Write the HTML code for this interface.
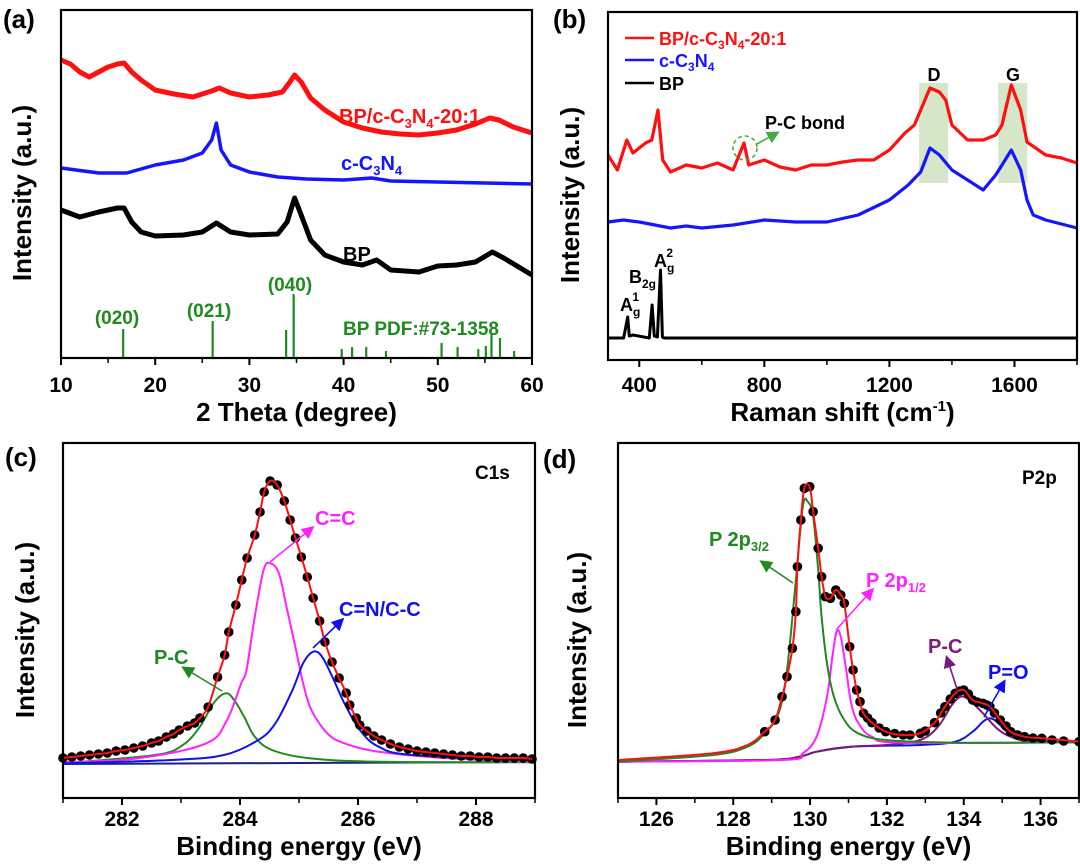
<!DOCTYPE html>
<html><head><meta charset="utf-8"><style>
html,body{margin:0;padding:0;background:#fff}
svg{display:block;font-family:"Liberation Sans",Arial,sans-serif;font-weight:bold}
</style></head><body>
<svg id="fig" width="1080" height="866" viewBox="0 0 1080 866">
<defs>
<marker id="mk-green" markerWidth="8" markerHeight="8" refX="6" refY="4" orient="auto"><path d="M0,0 L8,4 L0,8 z" fill="#1f8a1f"/></marker>
<marker id="mk-mag" markerWidth="8" markerHeight="8" refX="6" refY="4" orient="auto"><path d="M0,0 L8,4 L0,8 z" fill="#ff22ff"/></marker>
<marker id="mk-blue" markerWidth="8" markerHeight="8" refX="6" refY="4" orient="auto"><path d="M0,0 L8,4 L0,8 z" fill="#1010ee"/></marker>
<marker id="mk-purple" markerWidth="8" markerHeight="8" refX="6" refY="4" orient="auto"><path d="M0,0 L8,4 L0,8 z" fill="#7a1a7a"/></marker>
<marker id="mk-lgreen" markerWidth="8" markerHeight="8" refX="6" refY="4" orient="auto"><path d="M0,0 L8,4 L0,8 z" fill="#44aa44"/></marker>
</defs>
<g id="root"></g>
</svg>
<script>
// ---------- Panel (a) XRD ----------
const aTicks=[10,20,30,40,50,60];
const aRedX=[10,11,12,13,14,15,16,16.7,17.5,18.5,20,22,24,26,26.8,28,30,32,33.5,34.3,34.8,35.5,36.5,38,40,42,44,46,48,50,52,54,55.5,56.5,58,60];
const aRedY=[298,294,286,281,286,291,294,295,286,278,268,264,261,267,270,265,261,263,266,276,283,276,260,248,236,230,226,224,223,225,228,234,240,238,231,225];
const aBlueX=[10,14,17,20,23,25,26,26.5,27,28,30,33,36,40,43,45,50,55,60];
const aBlueY=[190,185,185,193,198,205,218,235,208,193,186,181,179,178,180,177,176,175,174];
const aBlackX=[10,12,14,16,16.7,17.5,18.5,20,23,25,26.5,28,30,33,34,34.8,35.5,36.5,38,40,42,43.5,45,48,50,52,54,55.8,57,60];
const aBlackY=[148,141,146,150,150,136,126,122,123,126,135,126,123,124,136,160,143,118,103,96,93,98,88,86,92,93,96,106,100,83];
const aRefPos=[16.6,26.1,33.9,34.7,39.8,40.9,42.4,44.5,50.4,52.1,54.3,55.1,55.7,56.6,58.1];
const aRefH=[29,37,28,64,9,11,11,7,15,11,9,12,24,20,7];
// ---------- Panel (b) Raman ----------
const bTicks=[400,800,1200,1600];
const bRedX=[300,330,360,380,420,440,460,475,500,550,600,650,700,735,750,800,850,900,950,1000,1050,1100,1150,1200,1250,1280,1300,1330,1360,1380,1400,1450,1500,1540,1560,1590,1620,1640,1700,1750,1800];
const bRedY=[205,190,220,207,217,220,250,200,188,195,192,197,190,217,195,200,193,190,195,195,198,200,200,210,227,235,250,272,268,260,235,220,220,225,235,275,250,218,205,202,197];
const bBlueX=[300,350,400,450,500,550,600,700,800,900,1000,1100,1200,1260,1300,1330,1360,1400,1450,1500,1540,1560,1590,1620,1640,1660,1700,1800];
const bBlueY=[138,140,138,135,132,134,132,135,140,138,138,145,160,175,188,212,205,190,180,170,185,195,210,190,160,145,140,132];
const bBlackX=[300,350,355,363,368,380,432,441,448,458,468,474,480,1800];
const bBlackY=[22,22,30,43,24,25,22,55,24,23,90,23,22,22];
// ---------- Panel (c) C1s ----------
const cTicks=[282,284,286,288];
const cDotE=[281.0,281.15,281.3,281.45,281.6,281.75,281.9,282.05,282.2,282.35,282.5,282.62,282.75,282.87,282.97,283.11,283.23,283.32,283.46,283.62,283.74,283.81,283.93,284.03,284.12,284.25,284.34,284.41,284.51,284.63,284.75,284.85,284.94,285.04,285.14,285.24,285.35,285.44,285.56,285.68,285.8,285.86,285.97,286.03,286.15,286.27,286.4,286.55,286.7,286.85,287.0,287.15,287.3,287.45,287.6,287.75,287.9,288.05,288.2,288.35,288.5,288.65,288.8,288.95];
const cDotI=[40,41,42,43,44,45,47,48,50,52,55,57,61,64,68,72,75,80,91,121,143,166,193,218,240,263,286,306,317,313,297,278,260,241,221,200,177,156,136,120,105,93,80,73,67,62,58,54,51,49,47,46,45,44,43,42,42,41,41,40,40,40,40,39];
const cMagE=[281,282.27,283.43,283.78,284.02,284.11,284.25,284.40,284.51,284.66,284.80,284.95,285.07,285.21,285.48,285.77,286.35,287.52,289];
const cMagI=[35.7,39.7,54.7,78,114.7,128,181.3,228,234.7,224.7,188,148,114.7,88,64.7,54.7,46.3,39.7,36];
const cGrnE=[281,282.56,283.03,283.32,283.55,283.76,283.90,284.07,284.25,284.54,285.18,286.35,289];
const cGrnI=[34.7,43,53,71.3,94.7,104.7,98,81.3,61.3,48,39.7,36.3,35.7];
const cBluE=[281,282.85,283.73,284.31,284.6,284.89,285.07,285.24,285.39,285.59,285.77,286.03,286.35,286.93,289];
const cBluI=[34.7,38,43,58,74.7,108,134.7,146.3,141.3,118,94.7,68,51.3,43,38];
const cBaseE=[281,289];
const cBaseI=[34,36];
// ---------- Panel (d) P2p ----------
const dTicks=[126,128,130,132,134,136];
const dEnvE=[125.01,127.47,128.37,128.82,129.09,129.27,129.40,129.54,129.63,129.67,129.76,129.85,129.99,130.08,130.21,130.30,130.40,130.53,130.67,130.80,130.89,131.03,131.12,131.21,131.30,131.39,131.61,131.97,132.42,132.87,133.24,133.51,133.78,134.00,134.23,134.50,134.68,134.95,135.22,135.58,136.03,137.07];
const dEnvI=[38,44.7,53,66.3,78,101.3,121.3,149.7,186.3,231.3,278,309.7,311.3,286.3,249.7,221.3,201.3,199.7,208,203,194.7,151.3,128,108,96.3,84.7,75.3,66.3,63,64.7,75.3,91.3,104.7,108,98,94.7,91.3,78,66.3,61.3,59.7,56.3];
const dDotE=[128.82,129.09,129.27,129.40,129.54,129.63,129.67,129.76,129.85,129.99,130.08,130.21,130.30,130.40,130.53,130.67,130.80,130.89,131.03,131.12,131.21,131.30,131.39,131.5,131.61,131.8,131.97,132.2,132.42,132.6,132.87,133.0,133.24,133.4,133.51,133.65,133.78,133.9,134.00,134.12,134.23,134.35,134.50,134.6,134.68,134.8,134.95,135.1,135.22,135.4,135.58,135.8,136.03,136.3,136.6,137.0];
const dDotI=[66.3,78,101.3,121.3,149.7,186.3,231.3,278,309.7,311.3,286.3,249.7,221.3,201.3,199.7,208,203,194.7,151.3,128,108,96.3,84.7,80,75.3,70,66.3,64.5,63,63,64.7,67,75.3,85,91.3,99,104.7,107,108,104,98,96,94.7,93,91.3,85,78,72,66.3,63,61.3,60,59.7,58,57,56.3];
const dGrnE=[125.01,127.47,128.37,128.82,129.18,129.40,129.63,129.81,129.94,130.08,130.21,130.30,130.44,130.62,130.89,131.25,131.97,133.78,137.07];
const dGrnI=[36.3,43,51.3,64.7,84.7,128,218,291.3,296.3,281.3,228,181.3,134.7,101.3,78,64.7,58,55.3,55.7];
const dMagE=[125.01,129.27,129.81,130.17,130.44,130.58,130.69,130.80,130.94,131.07,131.25,131.61,132.42,137.07];
const dMagI=[36.3,38,44.7,61.3,101.3,141.3,166.3,161.3,128,94.7,75.3,61.3,55.3,55.7];
const dPurE=[125.01,128.82,129.72,130.17,131.07,131.97,132.87,133.33,133.69,133.92,134.14,134.50,134.86,135.22,135.76,137.07];
const dPurI=[36.3,38,41.3,46.3,51.3,53,58,71.3,93,101.3,98,84.7,69.7,61.3,56.3,55.7];
const dBluE=[125.01,128.82,129.72,130.17,131.07,132.87,133.78,134.23,134.50,134.68,134.86,135.13,135.58,137.07];
const dBluI=[36.3,38,41.3,46.3,51.3,53,56.3,66.3,76.3,79.7,76.3,66.3,58,55.7];

const NS="http://www.w3.org/2000/svg";
const root=document.getElementById('root');
function mk(tag,attrs,parent,text){const e=document.createElementNS(NS,tag);for(const k in attrs)e.setAttribute(k,attrs[k]);if(text!==undefined)e.textContent=text;(parent||root).appendChild(e);return e;}
function lin(d0,d1,r0,r1){return v=>r0+(v-d0)*(r1-r0)/(d1-d0);}
function polyPath(xs,ys,sx,sy){return xs.map((x,i)=>(i?'L':'M')+sx(x).toFixed(1)+','+sy(ys[i]).toFixed(1)).join(' ');}
function smoothPath(xs,ys,sx,sy){
  const p=xs.map((x,i)=>[sx(x),sy(ys[i])]);
  let d='M'+p[0][0].toFixed(1)+','+p[0][1].toFixed(1);
  for(let i=0;i<p.length-1;i++){
    const p0=p[Math.max(0,i-1)],p1=p[i],p2=p[i+1],p3=p[Math.min(p.length-1,i+2)];
    const c1=[p1[0]+(p2[0]-p0[0])/6,p1[1]+(p2[1]-p0[1])/6];
    const c2=[p2[0]-(p3[0]-p1[0])/6,p2[1]-(p3[1]-p1[1])/6];
    d+=' C'+c1[0].toFixed(1)+','+c1[1].toFixed(1)+' '+c2[0].toFixed(1)+','+c2[1].toFixed(1)+' '+p2[0].toFixed(1)+','+p2[1].toFixed(1);
  }
  return d;
}
function frame(g,x0,y0,x1,y1,sx,ticks,minorStep,dmin,dmax,labelY){
  const f=mk('rect',{x:x0,y:y0,width:x1-x0,height:y1-y0,fill:'none',stroke:'#000','stroke-width':2.2},g);
  
  
  for(let v=dmin;v<=dmax+1e-9;v+=minorStep){
    const x=sx(v);
    const t=mk('line',{x1:x,x2:x,y1:y1,y2:y1+5,stroke:'#000','stroke-width':1.5},g);
    
    
  }
  ticks.forEach(v=>{
    const x=sx(v);
    mk('line',{x1:x,x2:x,y1:y1,y2:y1+7,stroke:'#000','stroke-width':2},g);
    const t=mk('text',{x:x,y:labelY,'text-anchor':'middle','font-size':21},g,String(v));
    
    
  });
}
function txt(g,x,y,s,size,fill,name,anchor){const t=mk('text',{x:x,y:y,'font-size':size,fill:fill||'#000','text-anchor':anchor||'start'},g,s);return t;}
function ytitle(g,x,y,name){const t=mk('text',{x:0,y:0,transform:`translate(${x},${y}) rotate(-90)`,'text-anchor':'middle','font-size':26},g,'Intensity (a.u.)');}
function arrow(g,x1,y1,x2,y2,col,m,name){const a=mk('line',{x1,y1,x2,y2,stroke:col,'stroke-width':1.6,'marker-end':`url(#${m})`},g);}
function curve(g,d,col,w,name){const p=mk('path',{d:d,fill:'none',stroke:col,'stroke-width':w,'stroke-linejoin':'round'},g);return p;}

// ===== Panel a =====
{
  const g=mk('g',{});
  
  
  const x0=61,x1=532,y0=10,y1=358;
  const sx=lin(10,60,x0,x1), sy=lin(0,348,y1,y0);
  aRefPos.forEach((p,i)=>{const l=mk('line',{x1:sx(p),x2:sx(p),y1:sy(0),y2:sy(aRefH[i]),stroke:'#1f8a1f','stroke-width':2.2},g);});
  curve(g,polyPath(aRedX,aRedY,sx,sy),'#ff1010',5,'trace-bp-c3n4');
  curve(g,polyPath(aBlueX,aBlueY,sx,sy),'#1515ff',3.5,'trace-c3n4');
  curve(g,polyPath(aBlackX,aBlackY,sx,sy),'#000',5,'trace-bp');
  frame(g,x0,y0,x1,y1,sx,aTicks,5,10,60,392);
  txt(g,(x0+x1)/2,421,'2 Theta (degree)',26,'#000','x-axis-title','middle');
  ytitle(g,31,193,'y-axis-title');
  txt(g,3,28,'(a)',26,'#000','panel-label-a');
  const r=txt(g,339,123,'',20,'#ff1010','label-bp-c3n4');
  r.innerHTML='BP/c-C<tspan font-size="13" dy="5">3</tspan><tspan dy="-5">N</tspan><tspan font-size="13" dy="5">4</tspan><tspan dy="-5">-20:1</tspan>';
  const b=txt(g,341,170,'',20,'#1515ff','label-c3n4');
  b.innerHTML='c-C<tspan font-size="13" dy="5">3</tspan><tspan dy="-5">N</tspan><tspan font-size="13" dy="5">4</tspan>';
  txt(g,343,261,'BP',20,'#000','label-bp');
  txt(g,290,291,'(040)',19,'#1f8a1f','label-040','middle');
  txt(g,209,317,'(021)',19,'#1f8a1f','label-021','middle');
  txt(g,117,324,'(020)',19,'#1f8a1f','label-020','middle');
  txt(g,343,335,'BP PDF:#73-1358',19,'#1f8a1f','label-pdf');
}
// ===== Panel b =====
{
  const g=mk('g',{});
  
  
  const x0=608,x1=1077,y0=12,y1=360;
  const sx=lin(300,1800,x0,x1), sy=lin(0,348,y1,y0);
  [[1295,1388],[1548,1641]].forEach((r,i)=>{const s=mk('rect',{x:sx(r[0]),y:83,width:sx(r[1])-sx(r[0]),height:100,fill:'#d6e6c9'},g);});
  curve(g,polyPath(bRedX,bRedY,sx,sy),'#ff1010',3.2,'trace-bp-c3n4');
  curve(g,polyPath(bBlueX,bBlueY,sx,sy),'#1515ff',3.2,'trace-c3n4');
  curve(g,polyPath(bBlackX,bBlackY,sx,sy),'#000',3,'trace-bp');
  frame(g,x0,y0,x1,y1,sx,bTicks,200,400,1800,392);
  const xt=txt(g,(x0+x1)/2,421,'',26,'#000','x-axis-title','middle');
  xt.innerHTML='Raman shift (cm<tspan font-size="15" dy="-10">-1</tspan><tspan dy="10">)</tspan>';
  ytitle(g,579,195,'y-axis-title');
  txt(g,553,28,'(b)',26,'#000','panel-label-b');
  const leg=[['#ff1010',38,'BP/c-C<tspan font-size="12" dy="4">3</tspan><tspan dy="-4">N</tspan><tspan font-size="12" dy="4">4</tspan><tspan dy="-4">-20:1</tspan>','legend-entry-bp-c3n4'],['#1515ff',60,'c-C<tspan font-size="12" dy="4">3</tspan><tspan dy="-4">N</tspan><tspan font-size="12" dy="4">4</tspan>','legend-entry-c3n4'],['#000',83,'BP','legend-entry-bp']];
  leg.forEach(l=>{mk('line',{x1:625,x2:654,y1:l[1],y2:l[1],stroke:l[0],'stroke-width':2.5},g);const t=txt(g,659,l[1]+7,'',18,l[0],l[3]);t.innerHTML=l[2];});
  txt(g,934,81,'D',18,'#000','label-d-band','middle');
  txt(g,1013,81,'G',18,'#000','label-g-band','middle');
  txt(g,765,129,'P-C bond',18,'#000','label-pc-bond');
  const c=mk('circle',{cx:745,cy:148,r:12,fill:'none',stroke:'#55aa33','stroke-width':1.6,'stroke-dasharray':'4,3'},g);
  
  arrow(g,757,144,777,133,'#44aa44','mk-lgreen','pc-bond-arrow');
  const a1=txt(g,620,311,'',18,'#000','label-ag1');a1.innerHTML='A<tspan font-size="12" dy="5">g</tspan><tspan font-size="12" dx="-8" dy="-15">1</tspan>';
  const b2=txt(g,629,283,'',18,'#000','label-b2g');b2.innerHTML='B<tspan font-size="12" dy="5">2g</tspan>';
  const a2=txt(g,654,267,'',18,'#000','label-ag2');a2.innerHTML='A<tspan font-size="12" dy="5">g</tspan><tspan font-size="12" dx="-8" dy="-15">2</tspan>';
}
// ===== Panel c =====
{
  const g=mk('g',{});
  
  
  const x0=63,x1=535,y0=443,y1=798;
  const sx=lin(281,289,x0,x1), sy=lin(0,355,y1,y0);
  curve(g,smoothPath(cBaseE,cBaseI,sx,sy),'#1a237e',2,'background-line');
  curve(g,smoothPath(cGrnE,cGrnI,sx,sy),'#1f8a1f',2,'fit-p-c');
  curve(g,smoothPath(cMagE,cMagI,sx,sy),'#ff22ff',2,'fit-c-c');
  curve(g,smoothPath(cBluE,cBluI,sx,sy),'#1010ee',2,'fit-c-n');
  cDotE.forEach((e,i)=>{const d=mk('circle',{cx:sx(e),cy:sy(cDotI[i]),r:4.8,fill:'#000'},g);});
  curve(g,smoothPath(cDotE,cDotI,sx,sy),'#ff1010',2,'fit-envelope');
  frame(g,x0,y0,x1,y1,sx,cTicks,1,281,289,826);
  txt(g,(x0+x1)/2,855,'Binding energy (eV)',26,'#000','x-axis-title','middle');
  ytitle(g,34,630,'y-axis-title');
  txt(g,5,466,'(c)',26,'#000','panel-label-c');
  txt(g,475,479,'C1s',19,'#000','label-c1s');
  txt(g,315,525,'C=C',20,'#ff22ff','label-c-c');
  arrow(g,270,562,312,528,'#ff22ff','mk-mag','arrow-c-c');
  txt(g,339,616,'C=N/C-C',20,'#1010ee','label-c-n');
  arrow(g,313,648,342,620,'#1010ee','mk-blue','arrow-c-n');
  txt(g,154,664,'P-C',20,'#1f8a1f','label-p-c');
  arrow(g,222,691,184,668,'#1f8a1f','mk-green','arrow-p-c');
}
// ===== Panel d =====
{
  const g=mk('g',{});
  
  
  const x0=618,x1=1079,y0=443,y1=798;
  const sx=lin(125,137,x0,x1), sy=lin(0,355,y1,y0);
  curve(g,smoothPath(dBluE,dBluI,sx,sy),'#1010ee',2,'fit-p-o');
  curve(g,smoothPath(dPurE,dPurI,sx,sy),'#7a1a7a',2,'fit-p-c');
  curve(g,smoothPath(dMagE,dMagI,sx,sy),'#ff22ff',2,'fit-p2p12');
  curve(g,smoothPath(dGrnE,dGrnI,sx,sy),'#1f8a1f',2,'fit-p2p32');
  dDotE.forEach((e,i)=>{const d=mk('circle',{cx:sx(e),cy:sy(dDotI[i]),r:4.8,fill:'#000'},g);});
  curve(g,smoothPath(dEnvE,dEnvI,sx,sy),'#ff1010',2,'fit-envelope');
  frame(g,x0,y0,x1,y1,sx,dTicks,1,125,137,826);
  txt(g,(x0+x1)/2,855,'Binding energy (eV)',26,'#000','x-axis-title','middle');
  ytitle(g,586,640,'y-axis-title');
  txt(g,543,468,'(d)',26,'#000','panel-label-d');
  txt(g,1022,484,'P2p',19,'#000','label-p2p');
  const l1=txt(g,709,546,'',20,'#1f8a1f','label-p2p32');l1.innerHTML='P 2p<tspan font-size="13" dy="5">3/2</tspan>';
  arrow(g,793,583,762,562,'#1f8a1f','mk-green','arrow-p2p32');
  const l2=txt(g,866,587,'',20,'#ff22ff','label-p2p12');l2.innerHTML='P 2p<tspan font-size="13" dy="5">1/2</tspan>';
  arrow(g,836,630,872,590,'#ff22ff','mk-mag','arrow-p2p12');
  txt(g,928,653,'P-C',20,'#7a1a7a','label-p-c');
  arrow(g,958,692,947,658,'#7a1a7a','mk-purple','arrow-p-c');
  txt(g,988,679,'P=O',20,'#1010ee','label-p-o');
  arrow(g,984,717,1004,682,'#1010ee','mk-blue','arrow-p-o');
}
</script>
</body></html>
